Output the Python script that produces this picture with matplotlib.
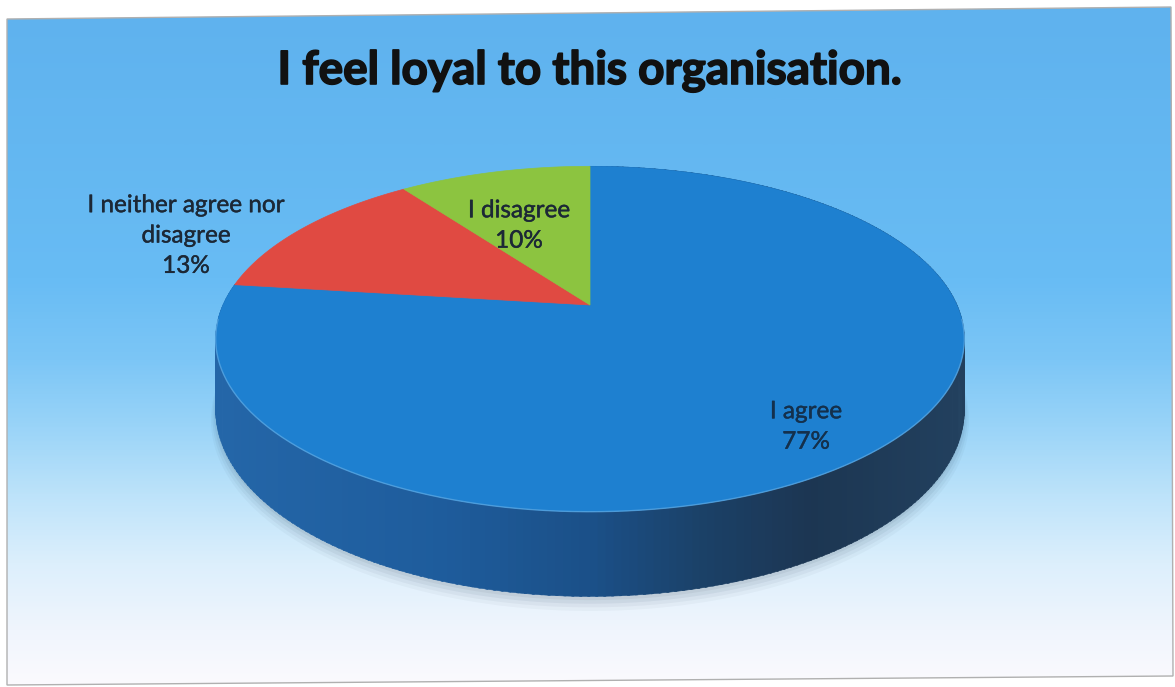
import numpy as np
import matplotlib.pyplot as plt
import matplotlib.patheffects as pe
from matplotlib.patches import Polygon
from matplotlib.colors import LinearSegmentedColormap

W, H, DPI = 1175, 687, 100

# survey answers, clockwise from 12 o'clock
answers = ['I agree', 'I neither agree nor\ndisagree', 'I disagree']
shares = [77, 13, 10]
top_colors = ['#1E80D0', '#E04A42', '#8CC440']
label_xy = [(806, 427), (186, 236), (519, 226)]
label_colors = ['#14304C', '#1C2836', '#1C2836']

TITLE = 'I feel loyal to this organisation.'

# 3D pie geometry (pixels)
CX, CY = 590, 305
RX, RY = 367, 166
PERSP = 0.197
DEPTH = 68

plt.rcParams['font.family'] = ['Lato', 'DejaVu Sans']


def project(theta, r=1.0, drop=0.0):
    # theta: degrees clockwise from 12 o'clock
    t = np.radians(theta)
    u = r * np.sin(t)
    v = r * np.cos(t)
    s = 1 + PERSP * v
    return CX + RX * u / s, CY + (-RY * v + drop) / s


fig = plt.figure(figsize=(W / DPI, H / DPI), dpi=DPI)
ax = fig.add_axes([0, 0, 1, 1])
ax.set_xlim(0, W)
ax.set_ylim(H, 0)
ax.axis('off')

# background panel with vertical gradient
frame = Polygon([(7, 19), (1171, 7), (1173, 676), (7, 685)], closed=True,
                facecolor='none', edgecolor='#b0b0b0', lw=1.0, zorder=1)
ax.add_patch(frame)
bg_cmap = LinearSegmentedColormap.from_list('bg', [
    (0.00, '#5FB2EE'), (0.40, '#68BCF4'), (0.52, '#7CC6F6'),
    (0.62, '#9AD4F8'), (0.72, '#BDE3FA'), (0.82, '#DCEFFC'),
    (0.92, '#F0F5FD'), (1.00, '#FBFAFE')])
grad = np.linspace(0, 1, 400)[:, None]
im = ax.imshow(grad, cmap=bg_cmap, extent=(7, 1173, 686, 7), aspect='auto', zorder=0)
im.set_clip_path(frame)

# soft shadow under the pie
th = np.linspace(90, 270, 120)
for k, a in enumerate([0.05, 0.05, 0.04, 0.03]):
    sx, sy = project(th, 1.0 + 0.004 * k, DEPTH + 3 + 2 * k)
    tx, ty = project(th[::-1], 1.0, DEPTH - 10)
    ax.fill(np.r_[sx, tx], np.r_[sy, ty], color='#0a1a30', alpha=a, lw=0, zorder=2)

# side wall of the big slice, shaded left to right
side_cmap = LinearSegmentedColormap.from_list('side', [
    (0.00, '#2466A8'), (0.30, '#1E5C9C'), (0.50, '#1B5088'),
    (0.65, '#1B4168'), (0.80, '#1C3652'), (1.00, '#22405E')])
bounds = np.r_[0, np.cumsum(shares)] * 3.6
step = 1.0
angles = np.arange(bounds[0], bounds[1], step)
order = np.argsort(-np.cos(np.radians(angles)))
for a0 in angles[order]:
    a1 = min(a0 + step + 0.3, bounds[1])
    x0, y0 = project(a0)
    x1, y1 = project(a1)
    x2, y2 = project(a1, drop=DEPTH)
    x3, y3 = project(a0, drop=DEPTH)
    c = side_cmap(np.clip((x0 + x1) / 2 - (CX - RX), 0, 2 * RX) / (2 * RX))
    ax.add_patch(Polygon([(x0, y0), (x1, y1), (x2, y2), (x3, y3)],
                         closed=True, facecolor=c, edgecolor=c, lw=0.4, zorder=3))

# top faces
for i, col in enumerate(top_colors):
    th = np.linspace(bounds[i], bounds[i + 1], 200)
    px, py = project(th)
    ax.add_patch(Polygon(np.c_[np.r_[CX, px], np.r_[CY, py]], closed=True,
                         facecolor=col, edgecolor=col, lw=0.5, zorder=4))

# light rim along the front edge of the top
th = np.linspace(95, 265, 200)
px, py = project(th)
ax.plot(px, py, color='#6AB2E8', lw=1.0, alpha=0.6, zorder=5)

ax.text(CX, 84, TITLE, ha='center', va='baseline', fontsize=33,
        fontweight='bold', color='#111111', zorder=6,
        path_effects=[pe.withStroke(linewidth=1.2, foreground='#111111')])

for name, val, (lx, ly), lc in zip(answers, shares, label_xy, label_colors):
    ax.text(lx, ly, f'{name}\n{val}%', ha='center', va='center', fontsize=17.5,
            color=lc, linespacing=1.55, zorder=6,
            path_effects=[pe.withStroke(linewidth=0.3, foreground=lc)])

fig.savefig('out.png', dpi=DPI)
